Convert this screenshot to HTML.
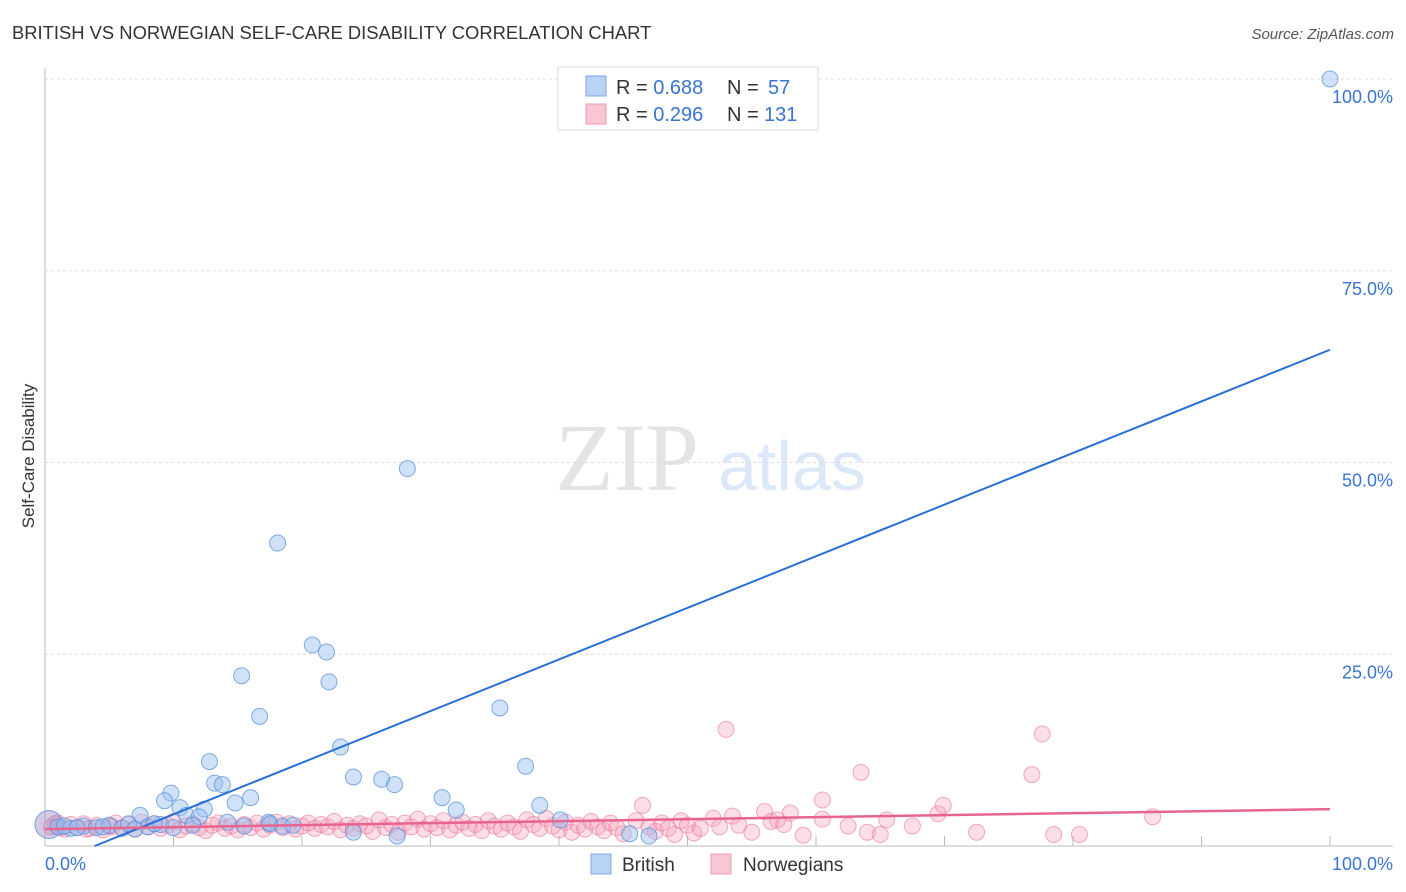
<!DOCTYPE html>
<html><head><meta charset="utf-8"><style>
body{margin:0;background:#fff;font-family:"Liberation Sans",sans-serif;}
#wrap{position:relative;width:1406px;height:892px;overflow:hidden;}
</style></head><body>
<div id="wrap">
<svg id="chart" width="1406" height="892">
<text x="12" y="39" font-size="18.4" fill="#333">BRITISH VS NORWEGIAN SELF-CARE DISABILITY CORRELATION CHART</text>
<text x="1394" y="39" font-size="15" fill="#555" font-style="italic" text-anchor="end">Source: ZipAtlas.com</text>
<text x="34" y="456" font-size="17" fill="#333" text-anchor="middle" transform="rotate(-90 34 456)">Self-Care Disability</text>
<text x="555" y="490" font-size="96" fill="#e4e4e4" font-family="Liberation Serif,serif">ZIP</text>
<text x="718" y="490" font-size="70" fill="#dce8f7">atlas</text>
<g id="grid"></g><g id="pts"></g><g id="lines"></g>
<g>
<rect x="558" y="67" width="260" height="63" fill="#fff" stroke="#ddd"/>
<rect x="586" y="76" width="20" height="20" fill="#b9d3f5" stroke="#7ea9e6"/>
<rect x="586" y="104" width="20" height="20" fill="#f9c6d4" stroke="#ef9ab2"/>
<text x="616" y="94" font-size="20" fill="#333">R = <tspan fill="#3a74d0">0.688</tspan></text>
<text x="727" y="94" font-size="20" fill="#333">N = <tspan x="768" fill="#3a74d0">57</tspan></text>
<text x="616" y="121" font-size="20" fill="#333">R = <tspan fill="#3a74d0">0.296</tspan></text>
<text x="727" y="121" font-size="20" fill="#333">N = <tspan x="764" fill="#3a74d0">131</tspan></text>
</g>
<g>
<rect x="591" y="854" width="20" height="20" fill="#b9d3f5" stroke="#7ea9e6"/>
<text x="622" y="871" font-size="19" fill="#333">British</text>
<rect x="711" y="854" width="20" height="20" fill="#f9c6d4" stroke="#ef9ab2"/>
<text x="743" y="871" font-size="19" fill="#333">Norwegians</text>
</g>
</svg></div>
<script>
const yTicks=[25,50,75,100];
const yTickLabels=["25.0%","50.0%","75.0%","100.0%"];
const xTickLabels=["0.0%","100.0%"];
const britX=[100,28.2,18.1,20.8,21.9,22.1,15.3,16.7,35.4,23,12.8,37.4,24,26.2,27.2,13.2,13.8,9.8,9.3,16,14.8,30.9,12.4,10.5,32,38.5,7.4,11,12,40.1,17.4,14.2,0.3,1,2,3,4,5,6,6.5,8,9,11.5,15.5,17.5,18.5,19.3,24,27.4,47,45.5,1.5,2.5,4.5,7,8.5,10];
const britY=[100,49.2,39.5,26.2,25.3,21.4,22.2,16.9,18,12.9,11,10.4,9,8.7,8,8.2,8,6.9,5.9,6.3,5.6,6.3,4.8,5,4.7,5.3,4,4,3.8,3.4,3.1,3.1,2.8,2.5,2.3,2.6,2.4,2.7,2.3,2.9,2.5,2.8,2.7,2.6,2.9,2.6,2.7,1.8,1.3,1.3,1.6,2.6,2.4,2.5,2.2,2.9,2.4];
const norX=[0.5,1,1.5,2,2.5,3,3.5,4,4.5,5,5.5,6,6.5,7,7.5,8,8.5,9,9.5,10,10.5,11,11.5,12,12.5,13,13.5,14,14.5,15,15.5,16,16.5,17,17.5,18,18.5,19,19.5,20,20.5,21,21.5,22,22.5,23,23.5,24,24.5,25,25.5,26,26.5,27,27.5,28,28.5,29,29.5,30,30.5,31,31.5,32,32.5,33,33.5,34,34.5,35,35.5,36,36.5,37,37.5,38,38.5,39,39.5,40,40.5,41,41.5,42,42.5,43,43.5,44,44.5,45,46,46.5,47,47.5,48,48.5,49,49.5,50,50.5,51,52,52.5,53,53.5,54,55,56,56.5,57,57.5,58,59,60.5,60.5,62.5,63.5,64,65,65.5,67.5,69.5,69.9,72.5,76.8,77.6,78.5,80.5,86.2,1.2,0.8,3.2,5.2];
const norY=[2.5,3,2.2,2.8,2.4,2.9,2.3,2.7,2.1,2.6,3,2.4,2.8,2.2,3.1,2.5,2.9,2.3,2.7,3.2,2.1,2.6,2.9,2.4,2,2.7,3,2.3,2.6,2.1,2.8,2.4,3,2.2,2.7,3.1,2.4,2.9,2.2,2.6,3,2.3,2.8,2.5,3.2,2.1,2.7,2.3,2.9,2.6,1.9,3.4,2.4,2.8,1.8,3,2.5,3.5,2.2,2.9,2.4,3.3,2.1,2.7,3.1,2.3,2.8,2,3.3,2.6,2.2,3,2.5,1.9,3.4,2.8,2.3,3.6,2.6,2.1,3.1,1.8,2.7,2.2,3.2,2.5,2,3,2.4,1.6,3.3,5.3,2.5,1.9,3,2.3,1.5,3.3,2.7,1.7,2.3,3.6,2.5,15.2,3.9,2.7,1.8,4.5,3.2,3.4,2.8,4.3,1.4,6,3.5,2.6,9.6,1.8,1.5,3.4,2.6,4.2,5.3,1.8,9.3,14.6,1.5,1.5,3.8,2.4,2.9,2.2,2.5];
const britTrend=[-2.6,67.3];   // intercept, slope
const norTrend=[2.2,2.6];
const X0=45,X1=1330,Y0=846,Y1=79;
const sx=v=>X0+(X1-X0)*v/100, sy=v=>Y0-(Y0-Y1)*v/100;
const NS="http://www.w3.org/2000/svg";
function mk(tag,attrs,parent){const e=document.createElementNS(NS,tag);for(const k in attrs)e.setAttribute(k,attrs[k]);parent.appendChild(e);return e;}
const grid=document.getElementById('grid');
let ax=mk('line',{x1:X0,y1:68,x2:X0,y2:Y0,stroke:'#bbb'},grid);


let bx=mk('line',{x1:X0,y1:Y0,x2:1393,y2:Y0,stroke:'#bbb'},grid);


yTicks.forEach((t,i)=>{
 const g=mk('line',{x1:X0,y1:sy(t),x2:1393,y2:sy(t),stroke:'#ddd','stroke-dasharray':'3,3'},grid);
 
 
 const l=mk('text',{x:1393,y:sy(t)+24,'font-size':18,fill:'#3a74d0','text-anchor':'end'},grid);l.textContent=yTickLabels[i];
 
 
});
for(let i=1;i<=10;i++){const t=mk('line',{x1:sx(i*10),y1:Y0-10,x2:sx(i*10),y2:Y0,stroke:'#bbb'},grid);
 
 }
[[45,'start'],[1393,'end']].forEach((p,i)=>{const l=mk('text',{x:p[0],y:870,'font-size':18,fill:'#3a74d0','text-anchor':p[1]},grid);l.textContent=xTickLabels[i];
 
 });
const pts=document.getElementById('pts');
norX.forEach((x,i)=>{const c=mk('circle',{cx:sx(x),cy:sy(norY[i]),r:8,fill:'rgba(246,160,186,0.35)',stroke:'rgba(232,120,155,0.6)','stroke-width':1},pts);
 
 });
britX.forEach((x,i)=>{const c=mk('circle',{cx:sx(x),cy:sy(britY[i]),r:i==32?14:8,fill:i==32?'rgba(170,150,200,0.5)':'rgba(150,190,240,0.45)',stroke:'rgba(80,140,220,0.7)','stroke-width':1},pts);
 
 });
const lines=document.getElementById('lines');
const bxs=(0-britTrend[0])/britTrend[1]*100;
let bl=mk('line',{x1:sx(bxs),y1:sy(0),x2:sx(100),y2:sy(britTrend[0]+britTrend[1]),stroke:'#2a6fd6','stroke-width':2},lines);


let nl=mk('line',{x1:sx(0),y1:sy(norTrend[0]),x2:sx(100),y2:sy(norTrend[0]+norTrend[1]),stroke:'#e8648f','stroke-width':2.5},lines);


</script>
</body></html>
